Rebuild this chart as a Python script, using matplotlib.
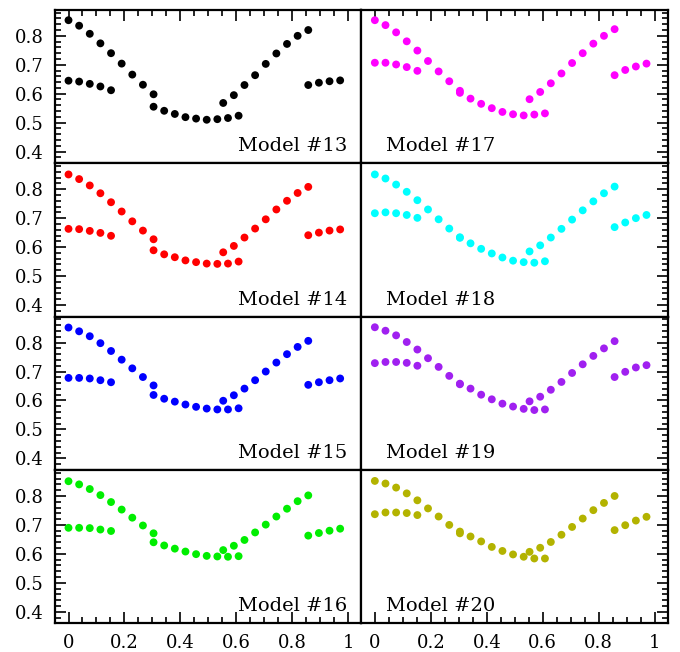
import numpy as np
import matplotlib
matplotlib.use('Agg')
import matplotlib.pyplot as plt
from matplotlib.ticker import MultipleLocator, FuncFormatter

plt.rcParams.update({
    'font.family': 'DejaVu Serif', 'font.size': 13,
})

# phase positions of the five point groups (shared by all panels)
x_g1 = [0.0, 0.038, 0.076, 0.114, 0.152, 0.19, 0.228, 0.266, 0.304]
x_g2 = [0.0, 0.038, 0.076, 0.114, 0.152]
x_g3 = [0.304, 0.342, 0.38, 0.418, 0.456, 0.494, 0.532, 0.57, 0.608]
x_g4 = [0.553, 0.591, 0.629, 0.667, 0.705, 0.743, 0.781, 0.819, 0.857]
x_g5 = [0.857, 0.895, 0.933, 0.971]

models = [13, 14, 15, 16, 17, 18, 19, 20]
colors = ['black', 'red', 'blue', '#00ee00', 'magenta', 'cyan', '#a020f0', '#b3b300']

y_g1 = {
    13: [0.854, 0.835, 0.807, 0.774, 0.740, 0.704, 0.666, 0.631, 0.598],
    14: [0.851, 0.835, 0.813, 0.786, 0.755, 0.723, 0.689, 0.657, 0.627],
    15: [0.852, 0.839, 0.822, 0.798, 0.771, 0.741, 0.711, 0.681, 0.652],
    16: [0.851, 0.840, 0.824, 0.803, 0.779, 0.753, 0.725, 0.698, 0.671],
    17: [0.854, 0.837, 0.812, 0.781, 0.749, 0.713, 0.677, 0.643, 0.610],
    18: [0.851, 0.837, 0.816, 0.791, 0.762, 0.730, 0.696, 0.664, 0.634],
    19: [0.853, 0.841, 0.825, 0.802, 0.776, 0.746, 0.716, 0.685, 0.658],
    20: [0.852, 0.843, 0.829, 0.809, 0.785, 0.757, 0.729, 0.700, 0.677],
}
y_g2 = {
    13: [0.645, 0.642, 0.634, 0.625, 0.612],
    14: [0.663, 0.662, 0.656, 0.649, 0.639],
    15: [0.678, 0.678, 0.676, 0.670, 0.663],
    16: [0.690, 0.690, 0.689, 0.684, 0.679],
    17: [0.707, 0.707, 0.701, 0.692, 0.679],
    18: [0.717, 0.720, 0.717, 0.711, 0.701],
    19: [0.729, 0.733, 0.733, 0.730, 0.720],
    20: [0.737, 0.743, 0.743, 0.741, 0.734],
}
y_g3 = {
    13: [0.555, 0.541, 0.530, 0.519, 0.514, 0.510, 0.512, 0.516, 0.524],
    14: [0.589, 0.575, 0.565, 0.554, 0.548, 0.543, 0.542, 0.543, 0.550],
    15: [0.619, 0.606, 0.596, 0.586, 0.578, 0.572, 0.569, 0.569, 0.573],
    16: [0.640, 0.629, 0.618, 0.608, 0.599, 0.593, 0.591, 0.590, 0.592],
    17: [0.603, 0.583, 0.565, 0.550, 0.537, 0.529, 0.525, 0.528, 0.532],
    18: [0.632, 0.613, 0.594, 0.578, 0.564, 0.553, 0.548, 0.546, 0.551],
    19: [0.656, 0.641, 0.620, 0.604, 0.589, 0.579, 0.571, 0.567, 0.569],
    20: [0.671, 0.660, 0.643, 0.624, 0.610, 0.598, 0.590, 0.584, 0.584],
}
y_g4 = {
    13: [0.568, 0.595, 0.630, 0.664, 0.703, 0.739, 0.772, 0.800, 0.820],
    14: [0.582, 0.604, 0.633, 0.664, 0.696, 0.730, 0.760, 0.787, 0.808],
    15: [0.599, 0.618, 0.641, 0.670, 0.700, 0.731, 0.760, 0.785, 0.806],
    16: [0.613, 0.628, 0.648, 0.674, 0.701, 0.729, 0.756, 0.782, 0.802],
    17: [0.581, 0.606, 0.636, 0.670, 0.706, 0.740, 0.773, 0.800, 0.823],
    18: [0.585, 0.606, 0.633, 0.663, 0.695, 0.727, 0.758, 0.786, 0.809],
    19: [0.597, 0.613, 0.637, 0.664, 0.695, 0.725, 0.754, 0.780, 0.805],
    20: [0.607, 0.621, 0.641, 0.666, 0.693, 0.722, 0.751, 0.776, 0.800],
}
y_g5 = {
    13: [0.630, 0.638, 0.643, 0.646],
    14: [0.641, 0.650, 0.657, 0.661],
    15: [0.654, 0.663, 0.670, 0.676],
    16: [0.663, 0.672, 0.680, 0.687],
    17: [0.664, 0.682, 0.694, 0.704],
    18: [0.669, 0.685, 0.700, 0.711],
    19: [0.681, 0.699, 0.714, 0.722],
    20: [0.682, 0.699, 0.715, 0.728],
}

fig, axes = plt.subplots(4, 2, figsize=(6.8, 6.52), dpi=100, sharex=True, sharey=True)
fig.subplots_adjust(left=0.081, right=0.982, top=0.985, bottom=0.044, wspace=0, hspace=0)

for k, (m, c) in enumerate(zip(models, colors)):
    row, col = k % 4, k // 4
    ax = axes[row, col]
    for xs, ys in [(x_g1, y_g1), (x_g2, y_g2), (x_g3, y_g3), (x_g4, y_g4), (x_g5, y_g5)]:
        ax.scatter(xs, ys[m], s=32, color=c, edgecolors='none', zorder=3)
    # model label: bottom-right on the left column, bottom-left on the right
    if col == 0:
        ax.text(0.955, 0.11, f'Model #{m}', transform=ax.transAxes, ha='right', va='center',
                fontsize=14)
    else:
        ax.text(0.08, 0.11, f'Model #{m}', transform=ax.transAxes, ha='left', va='center',
                fontsize=14)

    for sp in ax.spines.values():
        sp.set_linewidth(1.6)
    ax.xaxis.set_major_locator(MultipleLocator(0.2))
    ax.xaxis.set_minor_locator(MultipleLocator(0.05))
    ax.yaxis.set_major_locator(MultipleLocator(0.1))
    ax.yaxis.set_minor_locator(MultipleLocator(0.02))
    ax.tick_params(which='both', direction='in', width=1.2,
                   top=(row == 0), bottom=(row == 3),
                   left=(col == 0), right=(col == 1),
                   labelleft=(col == 0), labelbottom=(row == 3))
    ax.tick_params(which='major', length=8, pad=8)
    ax.tick_params(which='minor', length=4)

axes[0, 0].set_xlim(-0.048, 1.047)
axes[0, 0].set_ylim(0.36, 0.89)
fmt = FuncFormatter(lambda v, p: f'{v:g}')
axes[0, 0].xaxis.set_major_formatter(fmt)
axes[0, 0].yaxis.set_major_formatter(fmt)

fig.savefig('out.png')
